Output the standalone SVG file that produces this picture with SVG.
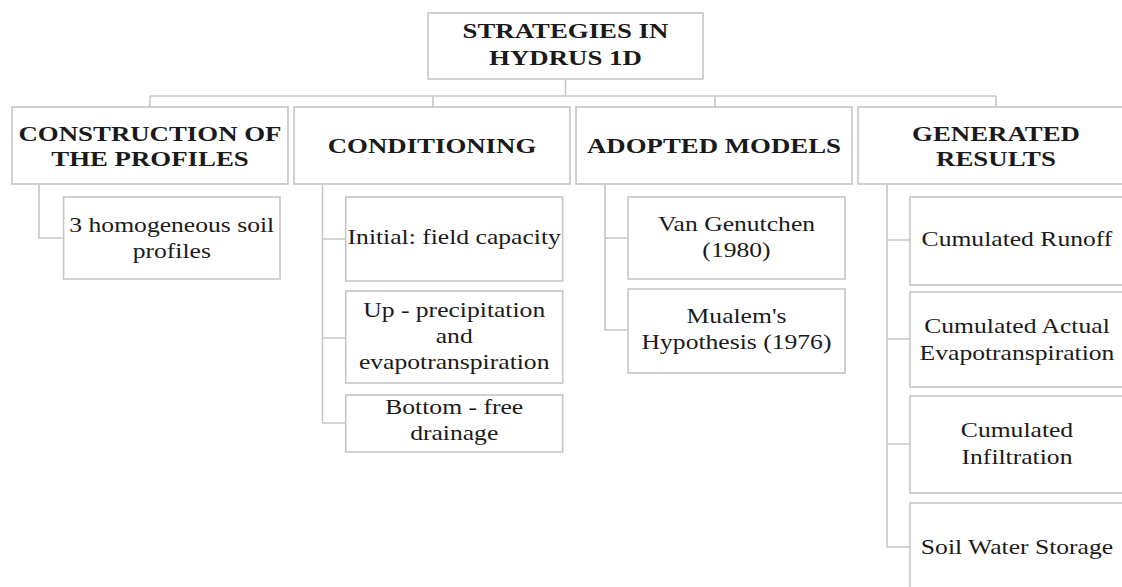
<svg xmlns="http://www.w3.org/2000/svg" width="1122" height="587" viewBox="0 0 1122 587">
<style>
.box{fill:#ffffff;stroke:#c6c6c6;stroke-width:1.6}
.ln{fill:none;stroke:#c6c6c6;stroke-width:1.6}
.h{font-family:"Liberation Serif","Times New Roman",serif;font-weight:bold;font-size:22px;fill:#1a1a1a;text-anchor:middle}
.c{font-family:"Liberation Serif","Times New Roman",serif;font-size:21px;fill:#1a1a1a;text-anchor:middle}
</style>
<rect width="1122" height="587" fill="#ffffff"/>
<g id="connectors">
<path class="ln" d="M565.5 79V96M150 96H996M150 96V107M433 96V107M715 96V107M996 96V107"/>
<path class="ln" d="M39 184V238H63.6"/>
<path class="ln" d="M322.5 184V423H345.7M322.5 239H345.7M322.5 338H345.7"/>
<path class="ln" d="M605 184V330H628M605 238H628"/>
<path class="ln" d="M887 184V547H910M887 240H910M887 339H910M887 444H910"/>
</g>
<g id="root">
<rect class="box" x="428" y="13" width="275" height="66"/>
<text class="h" transform="scale(1.22 1)" x="463.5" y="38.5">STRATEGIES IN</text>
<text class="h" transform="scale(1.22 1)" x="463.5" y="65">HYDRUS 1D</text>
</g>
<g id="construction">
<rect class="box" x="12" y="107" width="276" height="77"/>
<text class="h" transform="scale(1.22 1)" x="122.95" y="141">CONSTRUCTION OF</text>
<text class="h" transform="scale(1.22 1)" x="122.95" y="166">THE PROFILES</text>
</g>
<g id="conditioning">
<rect class="box" x="294" y="107" width="276" height="77"/>
<text class="h" transform="scale(1.22 1)" x="354.1" y="153">CONDITIONING</text>
</g>
<g id="adopted">
<rect class="box" x="576" y="107" width="276" height="77"/>
<text class="h" transform="scale(1.22 1)" x="585.25" y="153">ADOPTED MODELS</text>
</g>
<g id="generated">
<rect class="box" x="858" y="107" width="276" height="77"/>
<text class="h" transform="scale(1.22 1)" x="816.4" y="141">GENERATED</text>
<text class="h" transform="scale(1.22 1)" x="816.4" y="166">RESULTS</text>
</g>
<g id="soil-profiles">
<rect class="box" x="63.6" y="197" width="216.4" height="82"/>
<text class="c" transform="scale(1.22 1)" x="140.8" y="232">3 homogeneous soil</text>
<text class="c" transform="scale(1.22 1)" x="140.8" y="258">profiles</text>
</g>
<g id="initial">
<rect class="box" x="345.7" y="197" width="217" height="84"/>
<text class="c" transform="scale(1.22 1)" x="372.3" y="244">Initial: field capacity</text>
</g>
<g id="up">
<rect class="box" x="345.7" y="291" width="217" height="92"/>
<text class="c" transform="scale(1.22 1)" x="372.3" y="317">Up - precipitation</text>
<text class="c" transform="scale(1.22 1)" x="372.3" y="343">and</text>
<text class="c" transform="scale(1.22 1)" x="372.3" y="369">evapotranspiration</text>
</g>
<g id="bottom">
<rect class="box" x="345.7" y="395" width="217" height="57"/>
<text class="c" transform="scale(1.22 1)" x="372.3" y="414">Bottom - free</text>
<text class="c" transform="scale(1.22 1)" x="372.3" y="440">drainage</text>
</g>
<g id="van-genutchen">
<rect class="box" x="628" y="197" width="217" height="82"/>
<text class="c" transform="scale(1.22 1)" x="603.7" y="231">Van Genutchen</text>
<text class="c" transform="scale(1.22 1)" x="603.7" y="257">(1980)</text>
</g>
<g id="mualem">
<rect class="box" x="628" y="289" width="217" height="84"/>
<text class="c" transform="scale(1.22 1)" x="603.7" y="323">Mualem's</text>
<text class="c" transform="scale(1.22 1)" x="603.7" y="349">Hypothesis (1976)</text>
</g>
<g id="runoff">
<rect class="box" x="910" y="197" width="214" height="88"/>
<text class="c" transform="scale(1.22 1)" x="833.6" y="246">Cumulated Runoff</text>
</g>
<g id="evapotranspiration">
<rect class="box" x="910" y="292" width="214" height="95"/>
<text class="c" transform="scale(1.22 1)" x="833.6" y="333">Cumulated Actual</text>
<text class="c" transform="scale(1.22 1)" x="833.6" y="360">Evapotranspiration</text>
</g>
<g id="infiltration">
<rect class="box" x="910" y="396" width="214" height="97"/>
<text class="c" transform="scale(1.22 1)" x="833.6" y="437">Cumulated</text>
<text class="c" transform="scale(1.22 1)" x="833.6" y="464">Infiltration</text>
</g>
<g id="storage">
<rect class="box" x="910" y="503" width="214" height="90"/>
<text class="c" transform="scale(1.22 1)" x="833.6" y="554">Soil Water Storage</text>
</g>
</svg>
